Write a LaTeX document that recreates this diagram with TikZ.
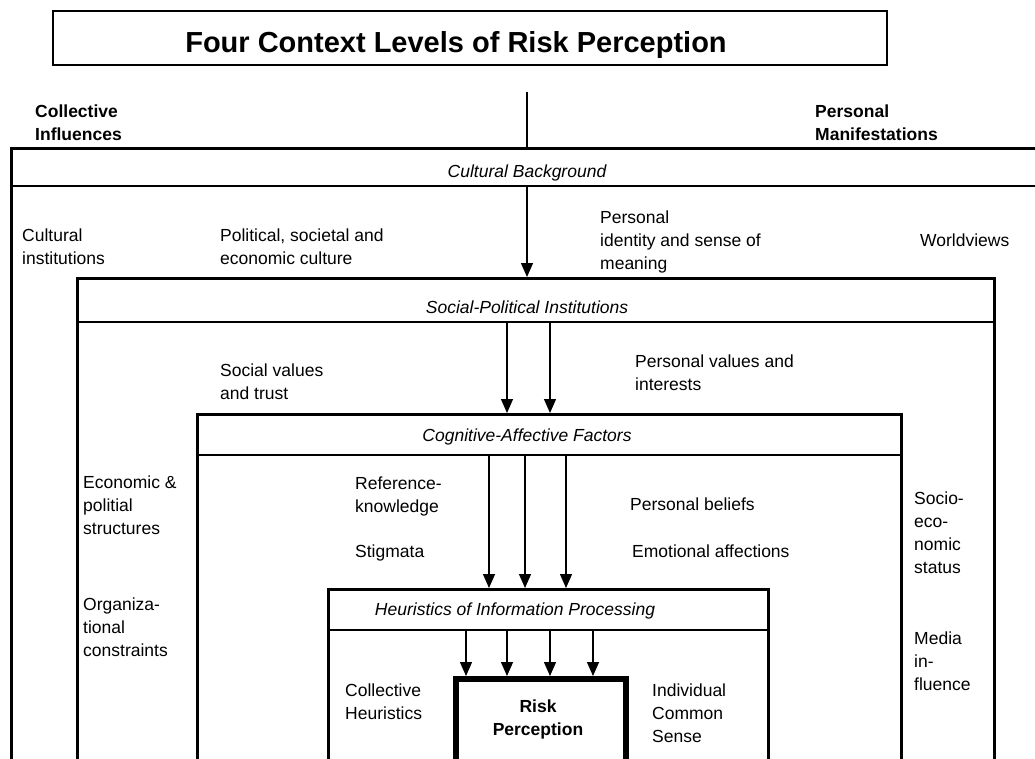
\documentclass[tikz,border=0pt]{standalone}
\usepackage{fontspec}
\setmainfont{Liberation Sans}
\usetikzlibrary{arrows.meta,positioning,calc}

\begin{document}
\begin{tikzpicture}[x=1pt,y=-1pt,
   lvl/.style={draw,line width=3pt,anchor=north west,inner sep=0pt},
   band/.style={line width=1.3pt},
   t/.style={font=\fontsize{17.5}{23}\selectfont,align=left,anchor=base west,inner sep=0pt},
   tb/.style={t,font=\fontsize{17.5}{23}\selectfont\bfseries},
   head/.style={font=\fontsize{17.5}{23}\selectfont\itshape,inner sep=0pt},
   flow/.style={-{Triangle[length=14pt,width=12pt]},line width=1.3pt}]
  \useasboundingbox (0,0) rectangle (1035,758);
  \clip (0,0) rectangle (1035,758);

  \node[draw,line width=1.5pt,minimum width=834pt,minimum height=54pt,anchor=north west] (titlebox) at (52,10) {};
  \node[font=\fontsize{29}{34}\selectfont\bfseries] (title) at (456,45) {Four Context Levels of Risk Perception};

  \node[tb] (coll) at (35,140) {Collective\\Influences};
  \node[tb] (pers) at (815,140) {Personal\\Manifestations};

  \node[lvl,minimum width=1100pt,minimum height=700pt] (cultural) at (10,147) {};
  \node[lvl,minimum width=917pt,minimum height=600pt] (social) at (76,277) {};
  \node[lvl,minimum width=704pt,minimum height=500pt] (cognitive) at (196,413) {};
  \node[lvl,minimum width=440pt,minimum height=400pt] (heuristic) at (327,588) {};
  \node[lvl,line width=6pt,minimum width=170pt,minimum height=300pt] (risk) at (453,676) {};

  \draw[band] (10,186) -- (1035,186);
  \draw[band] (76,322) -- (993,322);
  \draw[band] (196,455) -- (900,455);
  \draw[band] (327,630) -- (767,630);

  \node[head] (cbg) at (527,173) {Cultural Background};
  \node[head] (spi) at (527,307) {Social-Political Institutions};
  \node[head] (caf) at (527,437) {Cognitive-Affective Factors};
  \node[head] (hip) at (515,611) {Heuristics of Information Processing};

  \node[t] (instit) at (22,264) {Cultural\\institutions};
  \node[t] (polcult) at (220,264) {Political, societal and\\economic culture};
  \node[t] (ident) at (600,269) {Personal\\identity and sense of\\meaning};
  \node[t] (world) at (920,246) {Worldviews};

  \node[t] (trust) at (220,399) {Social values\\and trust};
  \node[t] (interest) at (635,390) {Personal values and\\interests};
  \node[t] (econ) at (83,534) {Economic \&\\politial\\structures};
  \node[t] (organ) at (83,656) {Organiza-\\tional\\constraints};
  \node[t] (socio) at (914,573) {Socio-\\eco-\\nomic\\status};
  \node[t] (media) at (914,690) {Media\\in-\\fluence};

  \node[t] (refk) at (355,512) {Reference-\\knowledge};
  \node[t] (stig) at (355,557) {Stigmata};
  \node[t] (belief) at (630,510) {Personal beliefs};
  \node[t] (emot) at (632,557) {Emotional affections};

  \node[t] (collh) at (345,719) {Collective\\Heuristics};
  \node[t] (indiv) at (652,742) {Individual\\Common\\Sense};
  \node[tb,align=center,anchor=base] (riskp) at (538,735) {Risk\\Perception};

  \coordinate (axis) at (527,92);
  \draw[line width=1.3pt] (axis) -- (axis |- cultural.north);
  \draw[flow] (527,186) -- (527,186 |- social.north);
  \foreach \x in {507,550}
    \draw[flow] (\x,322) -- (\x,322 |- cognitive.north);
  \foreach \x in {489,525,566}
    \draw[flow] (\x,455) -- (\x,455 |- heuristic.north);
  \foreach \x in {466,507,550,593}
    \draw[flow] (\x,630) -- (\x,630 |- risk.north);
\end{tikzpicture}
\end{document}
